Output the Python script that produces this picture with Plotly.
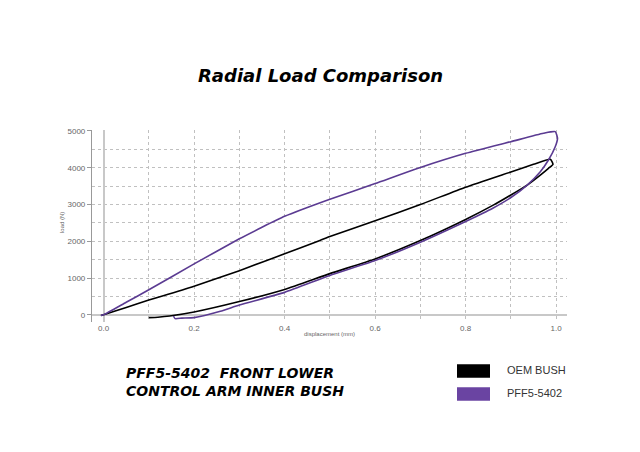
import plotly.graph_objects as go

# OEM bush hysteresis loop (displacement mm, load N)
oem_x = [-0.006, 0.0, 0.05, 0.1, 0.13, 0.2, 0.3, 0.35, 0.4, 0.478, 0.5, 0.6, 0.7, 0.8, 0.9, 0.95, 0.987, 0.993, 0.983, 0.965, 0.936, 0.9, 0.862, 0.8, 0.7, 0.6, 0.5, 0.4, 0.3, 0.2, 0.146, 0.12, 0.1]
oem_y = [-20, 0, 200, 400, 510, 775, 1200, 1430, 1660, 2020, 2130, 2560, 3000, 3470, 3885, 4093, 4229, 4093, 3984, 3800, 3529, 3260, 2990, 2594, 2020, 1520, 1120, 690, 360, 76, -33, -65, -77]

# PFF5-5402 hysteresis loop
pff_x = [-0.006, 0.0, 0.05, 0.1, 0.2, 0.3, 0.35, 0.4, 0.5, 0.6, 0.7, 0.8, 0.9, 0.972, 0.998, 1.003, 0.998, 0.983, 0.965, 0.936, 0.9, 0.86, 0.8, 0.7, 0.6, 0.5, 0.4, 0.3, 0.258, 0.2, 0.173, 0.158, 0.1545]
pff_y = [-20, 0, 340, 680, 1384, 2067, 2380, 2678, 3142, 3570, 4007, 4392, 4709, 4937, 4981, 4800, 4572, 4210, 3891, 3529, 3190, 2900, 2540, 1976, 1475, 1070, 610, 265, 95, -76, -90, -104, -33]

x_ticks = [0.0, 0.2, 0.4, 0.6, 0.8, 1.0]
y_ticks = [0, 1000, 2000, 3000, 4000, 5000]
legend_names = ["OEM BUSH", "PFF5-5402"]
line_colors = ["#000000", "#5b3b92"]
box_colors = ["#000000", "#6a44a2"]

W, H = 640, 452
ML, MR, MT, MB = 92, 73, 130, 130
PW, PH = W - ML - MR, H - MT - MB


def px(xp):
    return (xp - ML) / PW


def py(yp):
    return (H - MB - yp) / PH


fig = go.Figure()
fig.add_trace(go.Scatter(x=oem_x, y=oem_y, mode="lines", name=legend_names[0],
                         line=dict(color=line_colors[0], width=1.6, shape="spline", smoothing=0.5),
                         showlegend=False))
fig.add_trace(go.Scatter(x=pff_x, y=pff_y, mode="lines", name=legend_names[1],
                         line=dict(color=line_colors[1], width=1.6, shape="spline", smoothing=0.5),
                         showlegend=False))

grid = "#c0c0c0"
fig.update_xaxes(range=[-0.0256, 1.024], tickvals=x_ticks, ticktext=[f"{v:.1f}" for v in x_ticks],
                 showgrid=True, gridcolor=grid, griddash="dot", gridwidth=1,
                 minor=dict(dtick=0.1, tick0=0, showgrid=True, gridcolor=grid, griddash="dot", gridwidth=1),
                 zeroline=True, zerolinecolor="#c8c8c8", zerolinewidth=1.5,
                 showline=False, ticks="",
                 tickfont=dict(family="Liberation Sans", size=8, color="#666666"))
fig.update_yaxes(range=[-196, 5027], tickvals=y_ticks,
                 showgrid=True, gridcolor=grid, griddash="dot", gridwidth=1,
                 minor=dict(dtick=500, tick0=0, showgrid=True, gridcolor=grid, griddash="dot", gridwidth=1),
                 zeroline=True, zerolinecolor="#c8c8c8", zerolinewidth=1.5,
                 showline=True, linecolor="#999999", linewidth=1.2,
                 ticks="outside", ticklen=4, tickcolor="#999999",
                 tickfont=dict(family="Liberation Sans", size=8, color="#666666"))

annotations = [
    dict(text="<b><i>Radial Load Comparison</i></b>", x=px(320), y=py(75), xref="paper", yref="paper",
         showarrow=False, xanchor="center", yanchor="middle",
         font=dict(family="DejaVu Sans", size=18, color="#000000")),
    dict(text="<b><i>PFF5-5402  FRONT LOWER<br>CONTROL ARM INNER BUSH</i></b>", x=px(124), y=py(382),
         xref="paper", yref="paper", showarrow=False, xanchor="left", yanchor="middle", align="left",
         font=dict(family="DejaVu Sans", size=14, color="#000000")),
    dict(text="displacement (mm)", x=px(329), y=py(333.5), xref="paper", yref="paper",
         showarrow=False, xanchor="center", yanchor="middle",
         font=dict(family="Liberation Sans", size=6, color="#666666")),
    dict(text="load (N)", x=px(62), y=py(223), xref="paper", yref="paper", textangle=-90,
         showarrow=False, xanchor="center", yanchor="middle",
         font=dict(family="Liberation Sans", size=6, color="#666666")),
]
shapes = []
for i, (name, col) in enumerate(zip(legend_names, box_colors)):
    yc = 371 + i * 23
    shapes.append(dict(type="rect", xref="paper", yref="paper", x0=px(457), x1=px(490),
                       y0=py(yc + 6.7), y1=py(yc - 6.7), fillcolor=col, line=dict(width=0)))
    annotations.append(dict(text=name, x=px(505), y=py(yc - 1), xref="paper", yref="paper",
                            showarrow=False, xanchor="left", yanchor="middle",
                            font=dict(family="Liberation Sans", size=11, color="#333333")))

fig.update_layout(width=W, height=H, margin=dict(l=ML, r=MR, t=MT, b=MB),
                  paper_bgcolor="white", plot_bgcolor="white",
                  annotations=annotations, shapes=shapes, showlegend=False)
fig.write_html("out.html")
